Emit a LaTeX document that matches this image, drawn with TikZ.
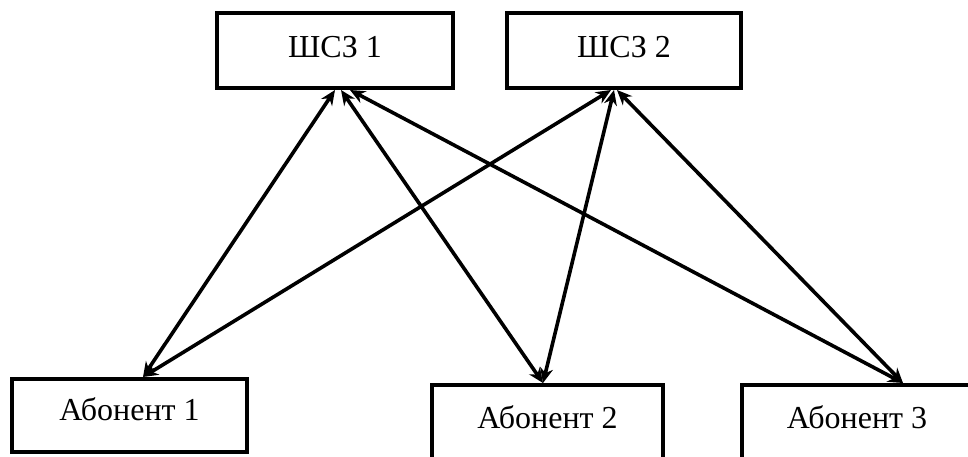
\documentclass[tikz,border=0pt]{standalone}
\usepackage{fontspec}
\setmainfont{Liberation Serif}
\usetikzlibrary{arrows.meta}
\begin{document}
\begin{tikzpicture}[x=1pt,y=-1pt,
  box/.style={draw, line width=3.5pt, inner sep=0pt, outer sep=0pt, anchor=north west,
    font=\fontsize{32}{38}\selectfont, text height=21.2pt},
  link/.style={line width=3.6pt, {Stealth[length=15pt,width=13pt]}-{Stealth[length=15pt,width=13pt]}}]
\useasboundingbox (0,0) rectangle (968,457);
\node[box, minimum width=236pt, minimum height=75pt, text depth=7.2pt] (s1) at (217,13) {ШСЗ 1};
\node[box, minimum width=234pt, minimum height=75pt, text depth=7.2pt] (s2) at (507,13) {ШСЗ 2};
\node[box, minimum width=235pt, minimum height=73pt, text depth=12.2pt] (a1) at (12,379) {Абонент 1};
\node[box, minimum width=231pt, minimum height=75pt, text depth=10.2pt] (a2) at (432,385) {Абонент 2};
\node[box, minimum width=230pt, minimum height=75pt, text depth=10.2pt] (a3) at (742,385) {Абонент 3};
\draw[link] ([xshift=13.5pt,yshift=2pt]a1.north) -- ([xshift=0pt,yshift=-2pt]s1.south);
\draw[link] ([xshift=13.5pt,yshift=2pt]a1.north) -- ([xshift=-13pt,yshift=-2pt]s2.south);
\draw[link] ([xshift=-4.5pt,yshift=2pt]a2.north) -- ([xshift=6pt,yshift=-2pt]s1.south);
\draw[link] ([xshift=-4.5pt,yshift=2pt]a2.north) -- ([xshift=-10pt,yshift=-2pt]s2.south);
\draw[link] ([xshift=46pt,yshift=2pt]a3.north) -- ([xshift=15pt,yshift=-2pt]s1.south);
\draw[link] ([xshift=46pt,yshift=2pt]a3.north) -- ([xshift=-7pt,yshift=-2pt]s2.south);
\end{tikzpicture}
\end{document}
